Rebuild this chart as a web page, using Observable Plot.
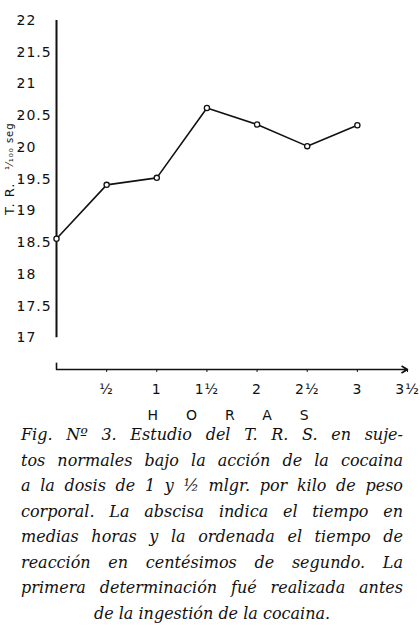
<!DOCTYPE html>
<html>
<head>
<meta charset="utf-8">
<script src="https://cdn.jsdelivr.net/npm/d3@7"></script>
<script src="https://cdn.jsdelivr.net/npm/@observablehq/plot@0.6"></script>
<style>
  html, body { margin: 0; padding: 0; background: #fff; }
  #chart { width: 420px; }
  #chart svg { overflow: visible; }
  #chart svg text { letter-spacing: 1px; }
  .caption {
    width: 420px;
    box-sizing: border-box;
    padding: 0 17px 0 21px;
    font-family: "DejaVu Serif", serif;
    font-style: italic;
    font-size: 16px;
    line-height: 25.5px;
    color: #111;
  }
  .caption div { text-align: justify; text-align-last: justify; white-space: nowrap; }
  .caption div.last { text-align: center; text-align-last: center; }
</style>
</head>
<body>
<div id="chart"></div>
<div class="caption" id="caption"></div>
<script>
// Reaction time (hundredths of a second) measured every half hour
const hours = [0, 0.5, 1, 1.5, 2, 2.5, 3];
const reactionTime = [18.56, 19.41, 19.52, 20.62, 20.36, 20.02, 20.35];

// Axis ticks and their printed labels
const yTicks = [17, 17.5, 18, 18.5, 19, 19.5, 20, 20.5, 21, 21.5, 22];
const xTicks = [0.5, 1, 1.5, 2, 2.5, 3, 3.5];
const xTickLabels = ["½", "1", "1½", "2", "2½", "3", "3½"];
const xTitle = "HORAS";
const yTitleMain = "T. R.";
const yTitleUnit = "¹⁄₁₀₀ seg";

const captionLines = [
  "Fig. Nº 3.  Estudio del T. R. S. en suje-",
  "tos normales bajo la acción de la cocaina",
  "a la dosis de 1 y ½ mlgr. por kilo de peso",
  "corporal.  La abscisa indica el tiempo en",
  "medias horas y la ordenada el tiempo de",
  "reacción en centésimos de segundo.  La",
  "primera determinación fué realizada antes",
  "de la ingestión de la cocaina."
];

const data = hours.map((h, i) => ({hours: h, rt: reactionTime[i]}));
const ink = "#111";

const chart = Plot.plot({
  width: 420,
  height: 422,
  marginLeft: 56,
  marginRight: 13,
  marginTop: 20,
  marginBottom: 53,
  x: {domain: [0, 3.5]},
  y: {domain: [16.5, 22]},
  style: {fontFamily: "DejaVu Sans", fontSize: "14px", color: ink, background: "white"},
  marks: [
    // vertical axis spine, spanning the labelled range only
    Plot.ruleX([0], {y1: 17, y2: 22, stroke: ink, strokeWidth: 2}),
    Plot.axisY({
      ticks: yTicks, tickSize: 3, tickPadding: 3, label: null,
      tickFormat: d => String(d),
      textAnchor: "start", dx: -34, fontSize: 14
    }),
    // horizontal axis as an arrow toward later hours
    Plot.arrow([{a: 0, b: 3.5}], {
      x1: "a", x2: "b", y1: () => 16.5, y2: () => 16.5,
      stroke: ink, strokeWidth: 1.6, headLength: 6, bend: 0
    }),
    Plot.ruleX([0], {y1: 16.5, y2: 16.6, stroke: ink, strokeWidth: 1.6}),
    Plot.axisX({
      ticks: xTicks, tickSize: 3, tickPadding: 12, label: null,
      tickFormat: (d, i) => xTickLabels[i], fontSize: 14
    }),
    Plot.text([xTitle], {frameAnchor: "bottom", dx: 10, dy: 50, fontSize: 14, text: d => d}),
    // vertical axis title
    Plot.text([yTitleMain], {frameAnchor: "left", rotate: -90, dx: -47, dy: 20, fontSize: 13, text: d => d}),
    Plot.text([yTitleUnit], {frameAnchor: "left", rotate: -90, dx: -47, dy: -25, fontSize: 10, text: d => d}),
    // measured series
    Plot.line(data, {x: "hours", y: "rt", stroke: ink, strokeWidth: 1.6}),
    Plot.dot(data, {x: "hours", y: "rt", r: 2.6, fill: "white", stroke: ink, strokeWidth: 1.3})
  ]
});

document.getElementById("chart").appendChild(chart);

// spread the letters of the horizontal title
d3.select(chart).selectAll("text")
  .filter(function () { return this.textContent === xTitle; })
  .style("letter-spacing", "28px");

const cap = document.getElementById("caption");
captionLines.forEach((line, i) => {
  const div = document.createElement("div");
  div.textContent = line;
  if (i === captionLines.length - 1) div.className = "last";
  cap.appendChild(div);
});
</script>
</body>
</html>
